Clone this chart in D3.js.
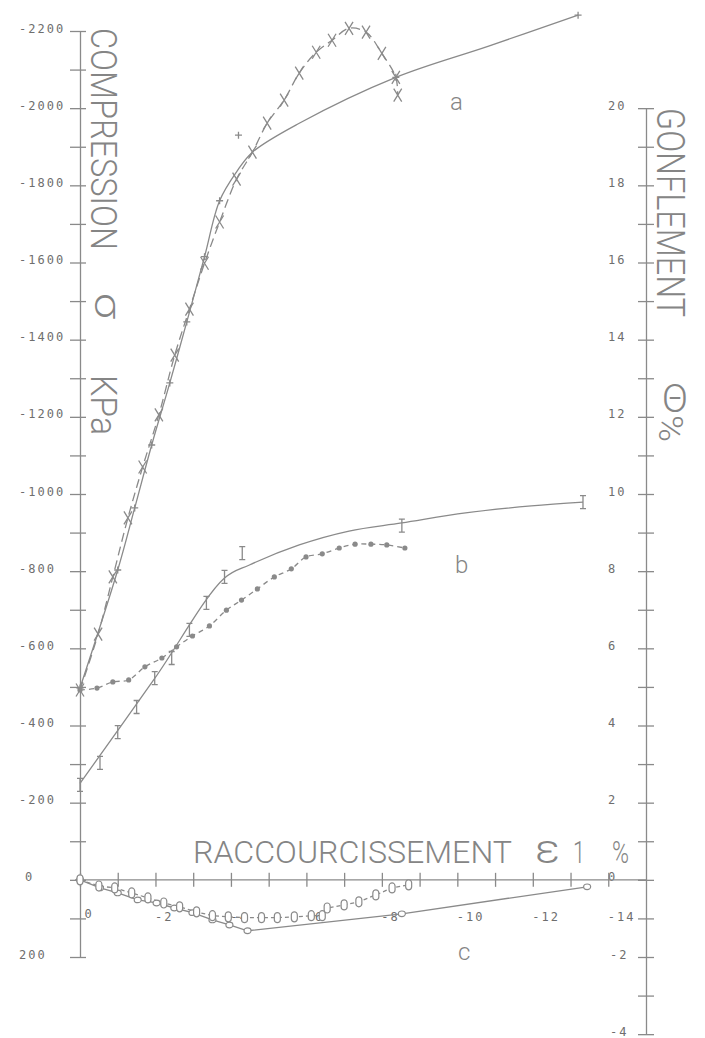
<!DOCTYPE html>
<html>
<head>
<meta charset="utf-8">
<script src="https://cdn.jsdelivr.net/npm/d3@7"></script>
<style>
  html, body { margin: 0; padding: 0; background: #fff; }
  svg { display: block; }
  .tick-label { font-family: "DejaVu Sans Mono", monospace; font-size: 12px; fill: #6e6e6e; letter-spacing: 2px; }
  .title { font-family: Roboto, "DejaVu Sans", sans-serif; font-weight: 300; fill: #858585; }
  .axis path, .axis line { stroke: #8a8a8a; stroke-width: 1.3; }
</style>
</head>
<body>
<div id="chart"></div>
<script>
// tick values
var sigmaTicks = [-2200, -2000, -1800, -1600, -1400, -1200, -1000, -800, -600, -400, -200, 0, 200];
var sigmaMinorTicks = [-2100, -1900, -1700, -1500, -1300, -1100, -900, -700, -500, -300, -100, 100];
var thetaTicks = [20, 18, 16, 14, 12, 10, 8, 6, 4, 2, 0, -2, -4];
var thetaMinorTicks = [19, 17, 15, 13, 11, 9, 7, 5, 3, 1, -1, -3];
var epsTicks = [0, -1, -2, -3, -4, -5, -6, -7, -8, -9, -10, -11, -12, -13, -14];
var epsTickLabels = [0, -2, -4, -6, -8, -10, -12, -14];

// curve a : fitted line (+) and test points (x, dashed)
var aFitEps = [0, -1.0, -1.45, -1.90, -2.38, -2.83, -3.30, -3.70, -4.15, -4.57, -5.81, -8.37, -10.83, -13.2];
var aFitSig = [-497, -803, -964, -1127, -1288, -1446, -1615, -1760, -1835, -1886, -1961, -2080, -2161, -2241];
var aMarkEps = [0, -1.0, -1.45, -1.90, -2.38, -2.83, -3.30, -3.70, -8.37, -13.2];
var aMarkSig = [-497, -803, -964, -1127, -1288, -1446, -1615, -1760, -2080, -2241];
var aExtraEps = [-4.2];
var aExtraSig = [-1930];
var aTestEps = [0, -0.48, -0.87, -1.27, -1.66, -2.09, -2.51, -2.90, -3.30, -3.70, -4.15, -4.57, -4.96, -5.41, -5.81, -6.26, -6.68, -7.13, -7.58, -8.00, -8.37, -8.42];
var aTestSig = [-492, -637, -785, -938, -1070, -1205, -1360, -1479, -1598, -1705, -1816, -1886, -1961, -2021, -2091, -2145, -2176, -2207, -2197, -2142, -2080, -2034];

// curve b : fitted line (I) and test points (*, dashed)
var bFitEps = [0, -1.98, -3.83, -4.49, -5.81, -7.13, -8.53, -10.22, -11.96, -13.33];
var bFitSig = [-250, -522, -782, -816, -868, -904, -925, -951, -969, -979];
var bMarkEps = [0, -0.53, -1.0, -1.5, -1.98, -2.43, -2.90, -3.35, -3.83, -4.30, -8.53, -13.33];
var bMarkSig = [-246, -303, -383, -448, -523, -575, -648, -718, -785, -847, -918, -979];
var bTestEps = [0, -0.45, -0.87, -1.29, -1.72, -2.17, -2.56, -2.98, -3.43, -3.88, -4.28, -4.70, -5.15, -5.60, -5.99, -6.42, -6.87, -7.29, -7.71, -8.13, -8.61];
var bTestSig = [-492, -497, -513, -518, -552, -575, -604, -632, -658, -699, -725, -754, -785, -806, -837, -845, -860, -870, -870, -868, -860];

// curve c : solid line (o) and test points (0, dashed)
var cFitEps = [0, -0.53, -1.0, -1.53, -2.03, -2.5, -2.98, -3.51, -3.96, -4.44, -8.53, -13.44];
var cFitSig = [0, 21, 34, 52, 60, 73, 85, 104, 117, 132, 88, 18];
var cTestEps = [0, -0.5, -0.92, -1.37, -1.80, -2.22, -2.64, -3.09, -3.51, -3.93, -4.36, -4.81, -5.23, -5.68, -6.13, -6.42, -6.55, -7.0, -7.39, -7.84, -8.27, -8.71];
var cTestSig = [0, 16, 21, 34, 47, 60, 70, 83, 93, 96, 98, 98, 98, 96, 93, 93, 73, 65, 57, 39, 21, 13];

// Sizing
var svgWidth = 705;
var svgHeight = 1038;
var ink = "#8a8a8a";

var svg = d3.select("#chart")
  .append("svg")
  .attr("width", svgWidth)
  .attr("height", svgHeight);

// scales
var xScale = d3.scaleLinear().domain([0, -15]).range([80, 646]);
var yScale = d3.scaleLinear().domain([200, -2200]).range([957, 31]);
var yRight = d3.scaleLinear().domain([-4, 20]).range([yScale(400), yScale(-2000)]);

// left axis
var leftAxis = d3.axisLeft(yScale)
  .tickValues(sigmaTicks.concat(sigmaMinorTicks))
  .tickSize(0)
  .tickSizeOuter(0)
  .tickFormat(d => sigmaTicks.indexOf(d) >= 0 ? String(d) : "");
var leftG = svg.append("g")
  .attr("class", "axis")
  .attr("transform", `translate(${xScale(0)},0)`)
  .call(leftAxis);
leftG.selectAll(".tick line").attr("x1", -10).attr("x2", 6);
leftG.selectAll(".tick text")
  .attr("class", "tick-label")
  .attr("x", d => (d === 0 ? 25 : 19) - xScale(0))
  .attr("dy", 1)
  .style("text-anchor", "start");

// right axis
var rightAxis = d3.axisRight(yRight)
  .tickValues(thetaTicks.concat(thetaMinorTicks))
  .tickSize(0)
  .tickSizeOuter(0)
  .tickFormat(d => thetaTicks.indexOf(d) >= 0 ? String(d) : "");
var rightG = svg.append("g")
  .attr("class", "axis")
  .attr("transform", `translate(${xScale(-15)},0)`)
  .call(rightAxis);
rightG.selectAll(".tick line").attr("x1", -8).attr("x2", 8);
rightG.selectAll(".tick text")
  .attr("class", "tick-label")
  .attr("x", d => d < 0 ? -36 : -38)
  .attr("dy", 1)
  .style("text-anchor", "start");

// bottom axis (strain)
var bottomAxis = d3.axisBottom(xScale)
  .tickValues(epsTicks)
  .tickSize(0)
  .tickSizeOuter(0)
  .tickFormat(d => epsTickLabels.indexOf(d) >= 0 ? String(d) : "");
var bottomG = svg.append("g")
  .attr("class", "axis")
  .attr("transform", `translate(0,${yScale(0)})`)
  .call(bottomAxis);
bottomG.select(".domain").attr("d", `M${xScale(0) - 5},0H${xScale(-15)}`);
bottomG.selectAll(".tick line").attr("y1", -7).attr("y2", 7);
bottomG.selectAll(".tick text")
  .attr("class", "tick-label")
  .attr("x", d => d === 0 ? 4 : -1)
  .attr("y", d => d === 0 ? 38 : 41)
  .attr("dy", 0)
  .style("text-anchor", "start");

// line helpers
function pts(eps, sig) {
  return eps.map((e, i) => ({ e: e, s: sig[i] }));
}
var smooth = d3.line().x(d => xScale(d.e)).y(d => yScale(d.s)).curve(d3.curveCatmullRom.alpha(0.5));
var straight = d3.line().x(d => xScale(d.e)).y(d => yScale(d.s));

function drawLine(data, gen, dash) {
  svg.append("path")
    .datum(data)
    .attr("d", gen)
    .attr("fill", "none")
    .attr("stroke", ink)
    .attr("stroke-width", 1.3)
    .attr("stroke-dasharray", dash);
}

var shapes = {
  cross: "M-4,-6.5L4,6.5M4,-6.5L-4,6.5",
  plus: "M-3.5,0H3.5M0,-3.5V3.5",
  ibeam: "M-3,-6.5H3M0,-6.5V6.5M-3,6.5H3"
};

function drawMarks(data, kind) {
  var g = svg.append("g")
    .selectAll("g")
    .data(data)
    .enter()
    .append("g")
    .attr("transform", d => `translate(${xScale(d.e)},${yScale(d.s)})`);
  if (kind === "dot") {
    g.append("circle").attr("r", 2.6).attr("fill", ink);
  } else if (kind === "zero") {
    g.append("rect").attr("x", -3).attr("y", -5).attr("width", 6).attr("height", 10)
      .attr("rx", 3).attr("fill", "#fff").attr("stroke", ink).attr("stroke-width", 1.2);
  } else if (kind === "ring") {
    g.append("ellipse").attr("rx", 3.5).attr("ry", 2.8)
      .attr("fill", "#fff").attr("stroke", ink).attr("stroke-width", 1.2);
  } else {
    g.append("path").attr("d", shapes[kind])
      .attr("fill", "none").attr("stroke", ink).attr("stroke-width", 1.3);
  }
}

// curve a
drawLine(pts(aTestEps, aTestSig), smooth, "9,5");
drawLine(pts(aFitEps, aFitSig), smooth, null);
drawMarks(pts(aTestEps, aTestSig), "cross");
drawMarks(pts(aMarkEps, aMarkSig), "plus");
drawMarks(pts(aExtraEps, aExtraSig), "plus");

// curve b
drawLine(pts(bTestEps, bTestSig), smooth, "5,4");
drawLine(pts(bFitEps, bFitSig), smooth, null);
drawMarks(pts(bTestEps, bTestSig), "dot");
drawMarks(pts(bMarkEps, bMarkSig), "ibeam");

// curve c
drawLine(pts(cFitEps, cFitSig), straight, null);
drawLine(pts(cTestEps, cTestSig), straight, "4,3");
drawMarks(pts(cFitEps, cFitSig), "ring");
drawMarks(pts(cTestEps, cTestSig), "zero");

// titles
function vText(txt, x0, y0, size, len) {
  svg.append("text")
    .attr("class", "title")
    .attr("transform", `translate(${x0},${y0}) rotate(90)`)
    .attr("font-size", size)
    .attr("textLength", len)
    .attr("lengthAdjust", "spacingAndGlyphs")
    .text(txt);
}
function hText(txt, x0, y0, size, len) {
  var t = svg.append("text")
    .attr("class", "title")
    .attr("x", x0)
    .attr("y", y0)
    .attr("font-size", size)
    .text(txt);
  if (len) t.attr("textLength", len).attr("lengthAdjust", "spacingAndGlyphs");
}

vText("COMPRESSION", 91, 28, 36, 222);
vText("σ", 95, 293, 36, 26);
vText("KPa", 91, 375, 36, 60);
vText("GONFLEMENT", 657, 108, 38, 209);
hText("Θ", 662, 412, 38, 26);
vText("%", 659, 415, 34, 27);

hText("RACCOURCISSEMENT", 193, 863, 32, 319);
hText("ε", 535, 863, 40, 25);
hText("1", 573, 863, 32, 12);
hText("%", 612, 863, 32, 17);

hText("a", 450, 110, 24);
hText("b", 455, 573, 24);
hText("c", 458, 960, 24);
</script>
</body>
</html>
